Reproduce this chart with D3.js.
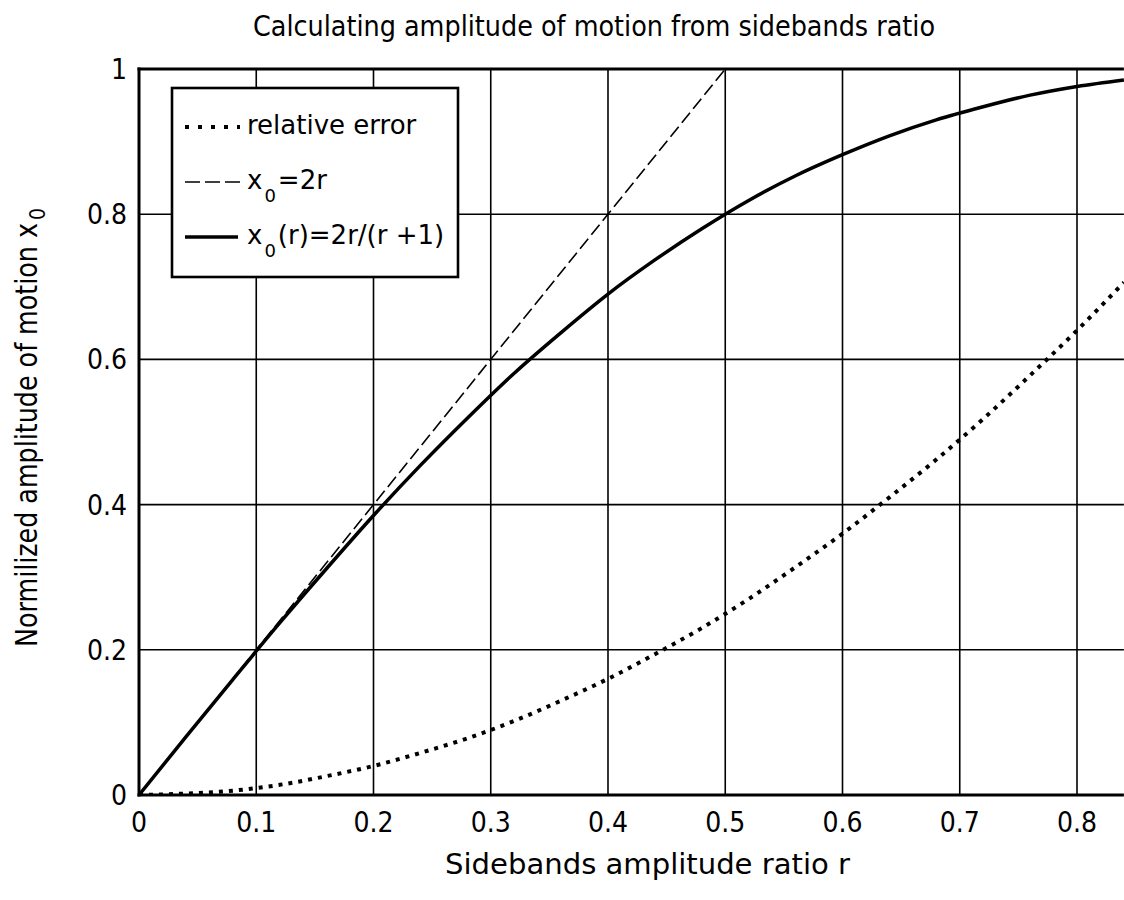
<!DOCTYPE html>
<html><head><meta charset="utf-8">
<script src="https://cdn.jsdelivr.net/npm/d3@7"></script>
<style>body{margin:0;background:#fff}svg{display:block}</style>
</head><body><svg id="c" width="1124" height="900"></svg>
<script>
const title = "Calculating amplitude of motion from sidebands ratio";
const xLabel = "Sidebands amplitude ratio r";
const yLabel = "Normilized amplitude of motion x";
const xTicks = [0,0.1,0.2,0.3,0.4,0.5,0.6,0.7,0.8];
const yTicks = [0,0.2,0.4,0.6,0.8,1];
const rValues = [0,0.04,0.08,0.12,0.16,0.2,0.24,0.28,0.32,0.36,0.4,0.44,0.48,0.52,0.56,0.6,0.64,0.68,0.72,0.76,0.8,0.84];
const exactX0 = [0,0.08,0.159,0.237,0.312,0.385,0.454,0.519,0.581,0.637,0.69,0.737,0.78,0.819,0.853,0.882,0.908,0.93,0.948,0.964,0.976,0.985];
const relError = [0,0.002,0.006,0.014,0.026,0.04,0.058,0.078,0.102,0.13,0.16,0.194,0.23,0.27,0.314,0.36,0.41,0.462,0.518,0.578,0.64,0.706];
const linearR = [0,0.5];
const linearX0 = [0,1];

const svg = d3.select("#c");
const x = d3.scaleLinear().domain([0,0.8]).range([139,1077]);
const y = d3.scaleLinear().domain([0,1]).range([795,69]);
const xR = x(0.84);
const FONT = "'DejaVu Sans', Verdana, sans-serif";
const FONTC = "'DejaVu Sans Condensed', 'DejaVu Sans', sans-serif";

svg.append("clipPath").attr("id","pc").append("rect")
  .attr("x",x(0)).attr("y",y(1)).attr("width",xR-x(0)).attr("height",y(0)-y(1));

// grid
const g = svg.append("g");
g.selectAll(".vx").data(xTicks.filter(d=>d>0)).join("line")
  .attr("x1",d=>x(d)).attr("x2",d=>x(d)).attr("y1",y(0)).attr("y2",y(1))
  .attr("stroke","#000").attr("stroke-width",1.6);
g.selectAll(".hy").data(yTicks.filter(d=>d>0&&d<1)).join("line")
  .attr("x1",x(0)).attr("x2",xR).attr("y1",d=>y(d)).attr("y2",d=>y(d))
  .attr("stroke","#000").attr("stroke-width",1.6);

const pts = (xs,ys)=>xs.map((r,i)=>[r,ys[i]]);
const line = d3.line().x(d=>x(d[0])).y(d=>y(d[1])).curve(d3.curveMonotoneX);
const plot = svg.append("g").attr("clip-path","url(#pc)");
plot.append("path").datum(pts(rValues,relError)).attr("d",line)
  .attr("fill","none").attr("stroke","#000").attr("stroke-width",4).attr("stroke-dasharray","4,6");
plot.append("path").datum(pts(linearR,linearX0)).attr("d",d3.line().x(d=>x(d[0])).y(d=>y(d[1])))
  .attr("fill","none").attr("stroke","#000").attr("stroke-width",1.6).attr("stroke-dasharray","13,5");
plot.append("path").datum(pts(rValues,exactX0)).attr("d",line)
  .attr("fill","none").attr("stroke","#000").attr("stroke-width",3.5);

// frame
svg.append("line").attr("x1",x(0)).attr("x2",x(0)).attr("y1",y(1)-1.5).attr("y2",y(0)+1.5).attr("stroke","#000").attr("stroke-width",3);
svg.append("line").attr("x1",x(0)-1.5).attr("x2",xR).attr("y1",y(0)).attr("y2",y(0)).attr("stroke","#000").attr("stroke-width",3);
svg.append("line").attr("x1",x(0)-1.5).attr("x2",xR).attr("y1",y(1)).attr("y2",y(1)).attr("stroke","#000").attr("stroke-width",3);

// tick labels
svg.selectAll(".xt").data(xTicks).join("text")
  .attr("x",d=>x(d)).attr("y",832).attr("text-anchor","middle")
  .attr("font-family",FONTC).attr("font-size",28).text(d=>d3.format("~g")(d));
svg.selectAll(".yt").data(yTicks).join("text")
  .attr("x",127).attr("y",d=>y(d)+10).attr("text-anchor","end")
  .attr("font-family",FONTC).attr("font-size",28).text(d=>d3.format("~g")(d));

// title & axis labels
svg.append("text").attr("x",253).attr("y",36).attr("font-family",FONTC).attr("font-size",28)
  .attr("textLength",682).attr("lengthAdjust","spacingAndGlyphs").text(title);
svg.append("text").attr("x",445).attr("y",874)
  .attr("font-family",FONTC).attr("font-size",28)
  .attr("textLength",405).attr("lengthAdjust","spacingAndGlyphs").text(xLabel);
const yl = svg.append("text").attr("transform","translate(37,647) rotate(-90)")
  .attr("font-family","'Liberation Sans Narrow', 'DejaVu Sans Condensed', sans-serif").attr("font-size",31);
yl.append("tspan").attr("textLength",424).attr("lengthAdjust","spacingAndGlyphs").text(yLabel);
yl.append("tspan").attr("dx",3).attr("dy",8).attr("font-size",21).text("0");

// legend
const lg = svg.append("g");
lg.append("rect").attr("x",172).attr("y",88).attr("width",286).attr("height",189)
  .attr("fill","#fff").attr("stroke","#000").attr("stroke-width",2.6);
const legendItems = [
  {dash:"4,9", w:4, x2:240, base:134, parts:[["relative error",0,26]]},
  {dash:"15,5", w:1.6, x2:240, base:189, parts:[["x",0,26],["0",13,18],["=2r",-13,26]]},
  {dash:null, w:3.5, x2:238, base:244, parts:[["x",0,26],["0",13,18],["(r)=2r/(r +1)",-13,26]]}
];
legendItems.forEach(it=>{
  lg.append("line").attr("x1",185).attr("x2",it.x2).attr("y1",it.base-7).attr("y2",it.base-7)
    .attr("stroke","#000").attr("stroke-width",it.w).attr("stroke-dasharray",it.dash);
  const t = lg.append("text").attr("x",247).attr("y",it.base).attr("font-family",FONT);
  it.parts.forEach((p,i)=>{
    t.append("tspan").attr("dy",p[1]).attr("dx",i>0?2:0).attr("font-size",p[2]).text(p[0]);
  });
});
</script></body></html>
